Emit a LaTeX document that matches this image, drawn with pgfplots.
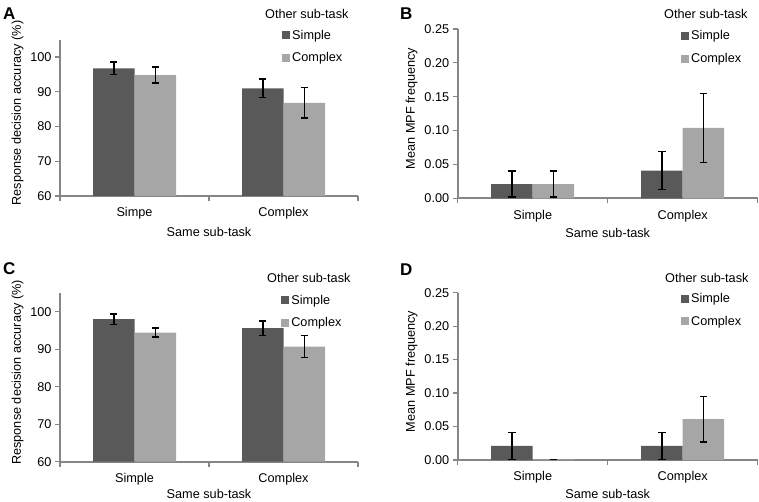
\documentclass[border=0pt]{standalone}
\usepackage{pgfplots}
\pgfplotsset{compat=1.18}
\usepackage{fontspec}
\setmainfont{Liberation Sans}
\definecolor{dark}{RGB}{89,89,89}
\definecolor{light}{RGB}{166,166,166}
\definecolor{axgray}{RGB}{134,134,134}
\newcommand{\fs}{\fontsize{12.7}{15}\selectfont}
\pgfplotsset{
 panel/.style={
  scale only axis, anchor=south west,
  xmin=-0.5, xmax=1.5,
  axis lines*=left,
  axis line style={draw=axgray, line width=1.6pt},
  ybar=0pt, bar width=41.5pt,
  xtick={-0.5,0.5,1.5}, xticklabels={},
  extra x ticks={0,1},
  extra x tick style={major tick length=0pt, xticklabel style={anchor=center, yshift=-17.5pt}},
  tick align=outside,
  major tick length=5pt,
  tick style={draw=axgray, line width=1.2pt},
  every tick label/.append style={font=\fs},
  label style={font=\fs},
  /pgf/number format/assume math mode=true,
  xlabel={Same sub-task},
  xlabel style={at={(axis description cs:0.5,0)}, anchor=center},
  ylabel style={at={(ticklabel cs:0.53)}},
  legend style={draw=none, fill=none, inner sep=0pt, row sep=10pt, column sep=1pt,
     nodes={inner sep=1pt, font=\fs}, anchor=north west},
  legend cell align=left,
  legend image code/.code={\fill[#1, draw=none] (0pt,-4pt) rectangle (8pt,4pt);},
 },
 acc/.style={ymin=60, ymax=105, ytick={60,70,80,90,100},
   ylabel={Response decision accuracy (\%)}},
 mpf/.style={ymin=0, ymax=0.25, ytick={0,0.05,0.1,0.15,0.2,0.25}, scaled y ticks=false,
   yticklabel style={/pgf/number format/.cd, fixed, fixed zerofill, precision=2},
   ylabel={Mean MPF frequency}},
 eb/.style={error bars/.cd, y dir=both, y explicit,
   error bar style={line width=1.5pt, draw=black},
   error mark options={rotate=90, mark size=3.7pt, line width=1.5pt, draw=black}},
}
\begin{document}
\begin{tikzpicture}[x=1pt,y=1pt]
\useasboundingbox (0,0) rectangle (759,-502);
% Panel A
\begin{axis}[panel, acc, at={(60pt,-196pt)}, width=298pt, height=156.4pt,
  extra x tick labels={Simpe,Complex}, xlabel style={yshift=-36pt},
  legend style={at={(0.745,1.07)}}]
\addplot[fill=dark, draw=none, eb] coordinates {(0,96.7) +- (0,1.8) (1,91.0) +- (0,2.6)};
\addplot[fill=light, draw=none, eb] coordinates {(0,94.8) +- (0,2.3) (1,86.8) +- (0,4.4)};
\legend{Simple,Complex}
\end{axis}
% Panel B
\begin{axis}[panel, mpf, at={(457.7pt,-198.3pt)}, width=300pt, height=169.3pt,
  extra x tick labels={Simple,Complex}, xlabel style={yshift=-35pt},
  legend style={at={(0.744,0.998)}}]
\addplot[fill=dark, draw=none, eb] coordinates {(0,0.021) +- (0,0.019) (1,0.041) +- (0,0.028)};
\addplot[fill=light, draw=none, eb] coordinates {(0,0.021) +- (0,0.019) (1,0.104) +- (0,0.051)};
\legend{Simple,Complex}
\end{axis}
% Panel C
\begin{axis}[panel, acc, at={(60pt,-461.7pt)}, width=298pt, height=168.75pt,
  extra x tick labels={Simple,Complex}, xlabel style={yshift=-32pt},
  legend style={at={(0.742,0.995)}}]
\addplot[fill=dark, draw=none, eb] coordinates {(0,98.0) +- (0,1.4) (1,95.6) +- (0,1.9)};
\addplot[fill=light, draw=none, eb] coordinates {(0,94.4) +- (0,1.2) (1,90.7) +- (0,2.9)};
\legend{Simple,Complex}
\end{axis}
% Panel D
\begin{axis}[panel, mpf, at={(457.7pt,-460pt)}, width=300pt, height=167.3pt,
  extra x tick labels={Simple,Complex}, xlabel style={yshift=-33.5pt},
  legend style={at={(0.744,1.003)}}]
\addplot[fill=dark, draw=none, eb] coordinates {(0,0.021) +- (0,0.02) (1,0.021) +- (0,0.02)};
\addplot[fill=light, draw=none, eb] coordinates {(0,0.001) +- (0,0) (1,0.061) +- (0,0.034)};
\legend{Simple,Complex}
\end{axis}
% titles and panel letters
\node[anchor=west, inner sep=0pt, font=\fs] at (265,-14) {Other sub-task};
\node[anchor=west, inner sep=0pt, font=\fs] at (664,-14) {Other sub-task};
\node[anchor=west, inner sep=0pt, font=\fs] at (267,-277.7) {Other sub-task};
\node[anchor=west, inner sep=0pt, font=\fs] at (665,-277.7) {Other sub-task};
\node[anchor=west, inner sep=0pt, font=\fontsize{17}{20}\selectfont\bfseries] at (3,-14) {A};
\node[anchor=west, inner sep=0pt, font=\fontsize{17}{20}\selectfont\bfseries] at (400,-14) {B};
\node[anchor=west, inner sep=0pt, font=\fontsize{17}{20}\selectfont\bfseries] at (3,-269) {C};
\node[anchor=west, inner sep=0pt, font=\fontsize{17}{20}\selectfont\bfseries] at (400,-270) {D};
\end{tikzpicture}
\end{document}
